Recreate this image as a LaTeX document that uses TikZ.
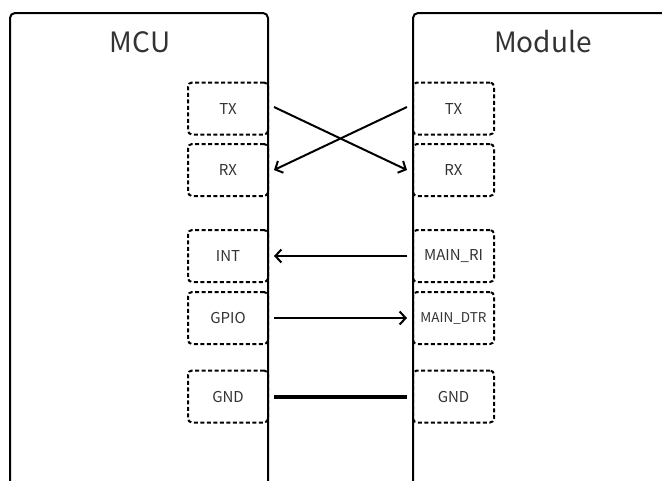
\documentclass[tikz,border=0pt]{standalone}
\usepackage{fontspec}
\setmainfont{Noto Sans CJK SC}
\usetikzlibrary{arrows.meta}
\definecolor{txt}{HTML}{333333}
\begin{document}
\begin{tikzpicture}[x=1pt,y=-1pt,
  chip/.style={line width=2pt, rounded corners=5pt},
  pin/.style={draw, dashed, dash pattern=on 4pt off 2.5pt, line width=2pt, rounded corners=4pt,
    minimum width=80pt, minimum height=52pt, inner sep=0pt, font=\fontsize{15}{18}\selectfont, text=txt},
  sig/.style={line width=2pt, -{Straight Barb[length=6pt,width=13pt]}},
  title/.style={font=\fontsize{28}{32}\selectfont, text=txt}]
\useasboundingbox (0,0) rectangle (662,480);
\clip (0,0) rectangle (662,480);
\fill[white] (0,0) rectangle (662,480);
% chips
\draw[chip] (10,490) -- (10,13) -- (268,13) -- (268,490);
\draw[chip] (413,490) -- (413,13) -- (672,13);
\node[title] (mcu) at (140,42) {MCU};
\node[title] (mod) at (543,42) {Module};
% MCU pins
\node[pin] (mtx) at (228,108.5) {TX};
\node[pin] (mrx) at (228,170) {RX};
\node[pin] (mint) at (228,256) {INT};
\node[pin] (mgpio) at (228,318) {GPIO};
\node[pin] (mgnd) at (228,396.5) {GND};
% Module pins
\node[pin, minimum width=81pt] (dtx) at (453.5,108.5) {TX};
\node[pin, minimum width=81pt] (drx) at (453.5,170) {RX};
\node[pin, minimum width=81pt] (dri) at (453.5,256) {MAIN\_RI};
\node[pin, minimum width=81pt, font=\fontsize{13.5}{16}\selectfont] (ddtr) at (453.5,318) {MAIN\_DTR};
\node[pin, minimum width=81pt] (dgnd) at (453.5,396.5) {GND};
% connectors
\draw[sig] ([xshift=5pt,yshift=1.5pt]mtx.east) -- ([xshift=-5pt]drx.west);
\draw[sig] ([xshift=-5pt,yshift=1.5pt]dtx.west) -- ([xshift=5pt]mrx.east);
\draw[sig] ([xshift=-5pt]dri.west) -- ([xshift=5pt]mint.east);
\draw[sig] ([xshift=5pt]mgpio.east) -- ([xshift=-5pt]ddtr.west);
\draw[line width=4pt] ([xshift=5pt]mgnd.east) -- ([xshift=-5pt]dgnd.west);
\end{tikzpicture}
\end{document}
